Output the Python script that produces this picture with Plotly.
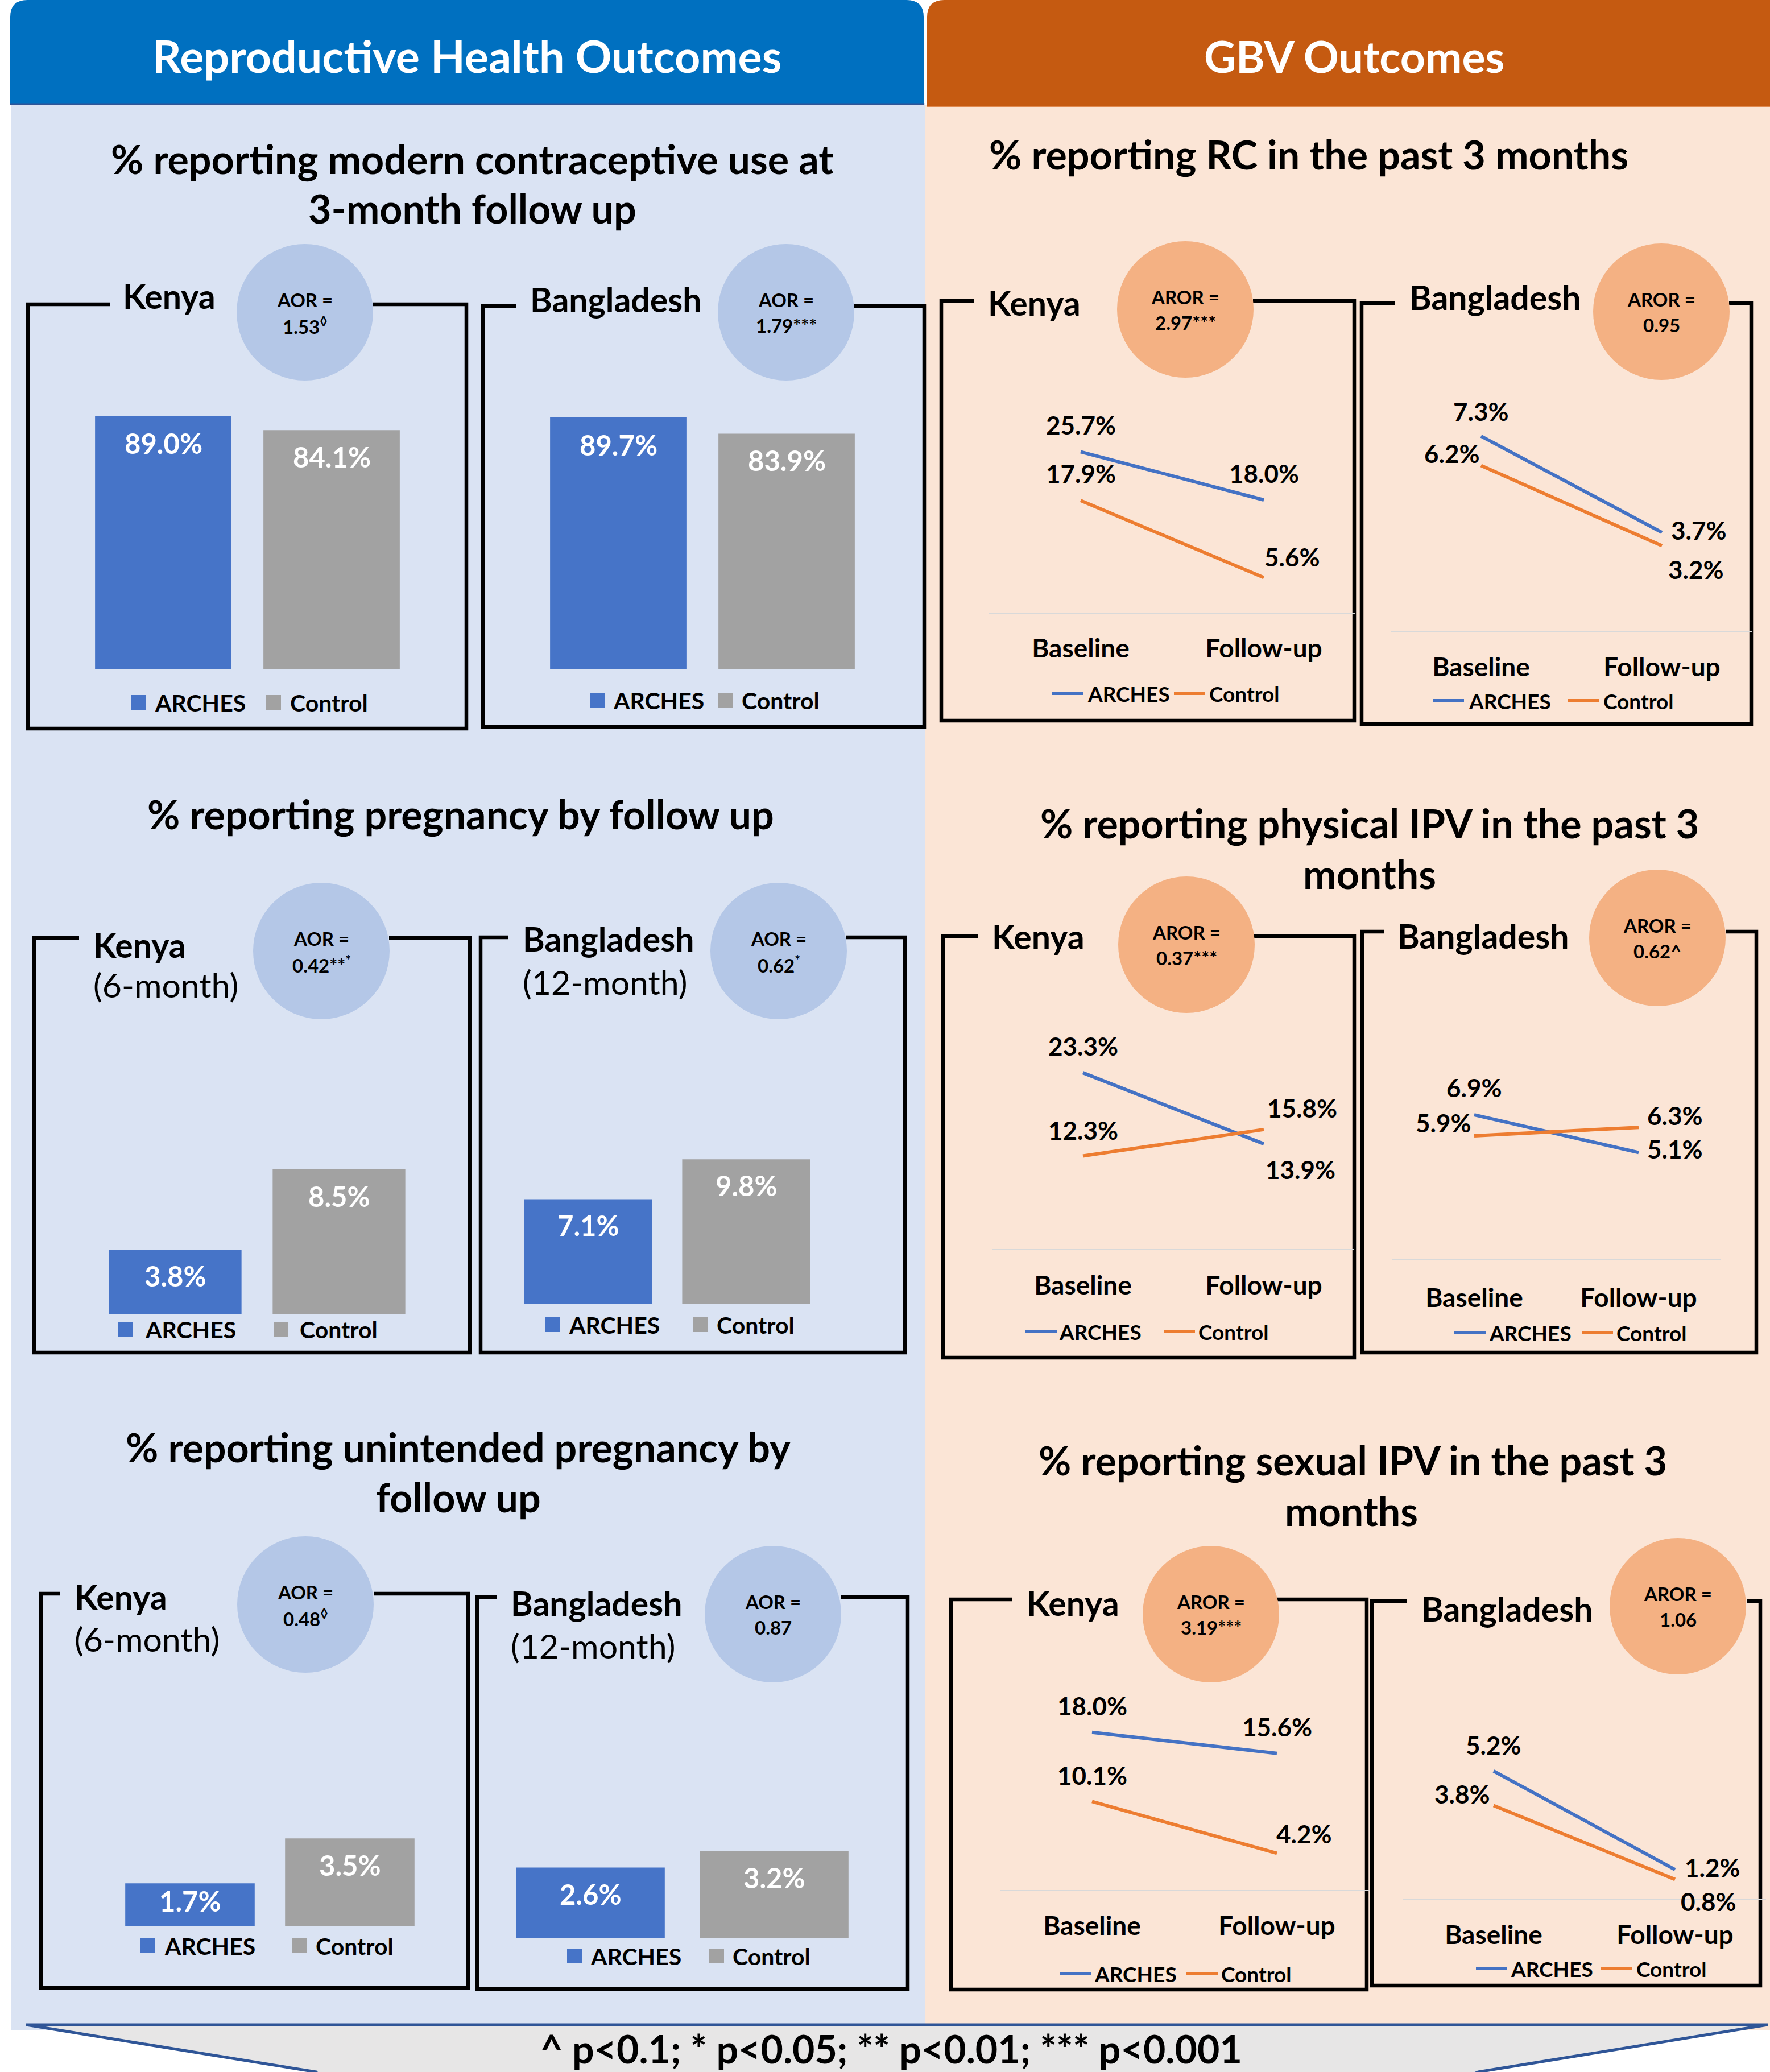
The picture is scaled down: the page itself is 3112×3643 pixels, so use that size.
import plotly.graph_objects as go

W, H = 3112, 3643

# ---------------- data ----------------
groups = ["ARCHES", "Control"]
timepoints = ["Baseline", "Follow-up"]

contraceptive_kenya = [89.0, 84.1]
contraceptive_bangladesh = [89.7, 83.9]
pregnancy_kenya = [3.8, 8.5]
pregnancy_bangladesh = [7.1, 9.8]
unintended_kenya = [1.7, 3.5]
unintended_bangladesh = [2.6, 3.2]

rc_kenya_arches = [25.7, 18.0]
rc_kenya_control = [17.9, 5.6]
rc_bangladesh_arches = [7.3, 3.7]
rc_bangladesh_control = [6.2, 3.2]
physical_kenya_arches = [23.3, 13.9]
physical_kenya_control = [12.3, 15.8]
physical_bangladesh_arches = [6.9, 5.1]
physical_bangladesh_control = [5.9, 6.3]
sexual_kenya_arches = [18.0, 15.6]
sexual_kenya_control = [10.1, 4.2]
sexual_bangladesh_arches = [5.2, 1.2]
sexual_bangladesh_control = [3.8, 0.8]

rh_or_kenya = ["1.53<sup>◊</sup>", "0.42**<sup>*</sup>", "0.48<sup>◊</sup>"]
rh_or_bangladesh = ["1.79***", "0.62<sup>*</sup>", "0.87"]
gbv_or_kenya = ["2.97***", "0.37***", "3.19***"]
gbv_or_bangladesh = ["0.95", "0.62^", "1.06"]

header_left = "Reproductive Health Outcomes"
header_right = "GBV Outcomes"
footer_text = "^ p&lt;0.1; * p&lt;0.05; ** p&lt;0.01; *** p&lt;0.001"

# ---------------- styles ----------------
FONT = "Lato"
BLUE = "#4472c4"
ORANGE = "#ed7d31"
BAR_BLUE = "#4674c8"
BAR_GRAY = "#a2a2a2"
BG_LEFT = "#dae3f3"
BG_RIGHT = "#fbe5d6"
CIRC_BLUE = "#b4c7e7"
CIRC_ORANGE = "#f4b183"

TITLE_SIZE = 70
COUNTRY_SIZE = 59
OR_SIZE = 33
BARLABEL_SIZE = 49
BARLEG_SIZE = 41
LINELABEL_SIZE = 44
CAT_SIZE = 46
LINELEG_SIZE = 37
LINE_W = 6

shapes = []
annotations = []


def X(x):
    return x / W


def Y(y):
    return 1 - y / H


def rect(x0, y0, x1, y1, fill, lc=None, lw=0):
    shapes.append(dict(type="rect", xref="paper", yref="paper",
                       x0=X(x0), x1=X(x1), y0=Y(y1), y1=Y(y0),
                       fillcolor=fill, line=dict(width=lw, color=lc or fill),
                       layer="below"))


def path(d, fill=None, color="black", lw=6.5):
    s = dict(type="path", xref="paper", yref="paper", path=d,
             line=dict(color=color, width=lw), layer="below")
    if fill:
        s["fillcolor"] = fill
    shapes.append(s)


def pts(points):
    return " L ".join(f"{X(x):.6f},{Y(y):.6f}" for x, y in points)


def circle(cx, cy, r, fill):
    shapes.append(dict(type="circle", xref="paper", yref="paper",
                       x0=X(cx - r), x1=X(cx + r), y0=Y(cy + r), y1=Y(cy - r),
                       fillcolor=fill, line=dict(width=0), layer="below"))


def seg(x0, y0, x1, y1, color, lw):
    shapes.append(dict(type="line", xref="paper", yref="paper",
                       x0=X(x0), x1=X(x1), y0=Y(y0), y1=Y(y1),
                       line=dict(color=color, width=lw), layer="below"))


def text(x, y, s, size, color="black", xanchor="center", weight=700):
    annotations.append(dict(x=X(x), y=Y(y), xref="paper", yref="paper", text=s,
                            showarrow=False, xanchor=xanchor, yanchor="middle",
                            font=dict(family=FONT, size=size, color=color, weight=weight)))


def frame(box, segs):
    x0, top, x1, bottom = box
    l, r = segs
    d = "M " + pts([(l, top), (x0, top), (x0, bottom), (x1, bottom), (x1, top), (r, top)])
    path(d)


# ---------------- backgrounds ----------------
rect(19, 181, 1627, 3570, BG_LEFT)
rect(1627, 185, 3112, 3570, BG_RIGHT)

r = 30
d = (f"M {X(18):.6f},{Y(183):.6f} L {X(18):.6f},{Y(r):.6f} Q {X(18):.6f},{Y(0):.6f} {X(18 + r):.6f},{Y(0):.6f} "
     f"L {X(1624 - r):.6f},{Y(0):.6f} Q {X(1624):.6f},{Y(0):.6f} {X(1624):.6f},{Y(r):.6f} L {X(1624):.6f},{Y(183):.6f} Z")
path(d, fill="#0070c0", color="#0070c0", lw=0)
seg(18, 183, 1624, 183, "#2f5597", 3)
d = (f"M {X(1630):.6f},{Y(187):.6f} L {X(1630):.6f},{Y(r):.6f} Q {X(1630):.6f},{Y(0):.6f} {X(1630 + r):.6f},{Y(0):.6f} "
     f"L {X(3140):.6f},{Y(0):.6f} L {X(3140):.6f},{Y(187):.6f} Z")
path(d, fill="#c55a11", color="#c55a11", lw=0)
seg(1630, 187, 3112, 187, "#e08a50", 2)

text(821, 97, header_left, 79, color="white")
text(2381, 98, header_right, 77, color="white")

# section titles
text(830, 279, "% reporting modern contraceptive use at", TITLE_SIZE)
text(830, 366, "3-month follow up", TITLE_SIZE)
text(810, 1431, "% reporting pregnancy by follow up", TITLE_SIZE)
text(806, 2544, "% reporting unintended pregnancy by", TITLE_SIZE)
text(806, 2632, "follow up", TITLE_SIZE)
text(2301, 271, "% reporting RC in the past 3 months", TITLE_SIZE)
text(2408, 1447, "% reporting physical IPV in the past 3", TITLE_SIZE)
text(2408, 1536, "months", TITLE_SIZE)
text(2378, 2567, "% reporting sexual IPV in the past 3", TITLE_SIZE)
text(2376, 2656, "months", TITLE_SIZE)

# footer
d = "M " + pts([(46, 3560), (3108, 3560), (2599, 3643), (2560, 3660), (560, 3660), (556, 3643)]) + " Z"
path(d, fill="#e7e6e6", color="#2f5597", lw=5)
text(1567, 3601, footer_text, 68)

# ---------------- panels ----------------
bar_panels = [
    dict(vals=contraceptive_kenya, country="Kenya", sub=None, orv=rh_or_kenya[0],
         box=(49, 535, 820, 1281), segs=(193, 656), tpos=(214, 520), spos=None,
         circ=(536, 549), centers=(287, 583), base=1176, scale=4.99,
         leg_y=1235, leg=(243, 270, 481, 508), offs=(47, 47)),
    dict(vals=contraceptive_bangladesh, country="Bangladesh", sub=None, orv=rh_or_bangladesh[0],
         box=(849, 538, 1625, 1278), segs=(908, 1502), tpos=(930, 527), spos=None,
         circ=(1382, 549), centers=(1087, 1383), base=1177, scale=4.94,
         leg_y=1231, leg=(1050, 1076, 1276, 1302), offs=(48, 46)),
    dict(vals=pregnancy_kenya, country="Kenya", sub="(6-month)", orv=rh_or_kenya[1],
         box=(60, 1649, 826, 2378), segs=(139, 684), tpos=(162, 1661), spos=(162, 1732),
         circ=(565, 1672), centers=(308, 596), base=2311, scale=30.0,
         leg_y=2337, leg=(221, 253, 494, 525), offs=(46, 47)),
    dict(vals=pregnancy_bangladesh, country="Bangladesh", sub="(12-month)", orv=rh_or_bangladesh[1],
         box=(845, 1648, 1591, 2378), segs=(894, 1488), tpos=(917, 1650), spos=(917, 1727),
         circ=(1369, 1672), centers=(1034, 1312), base=2293, scale=26.0,
         leg_y=2329, leg=(972, 998, 1232, 1258), offs=(46, 46)),
    dict(vals=unintended_kenya, country="Kenya", sub="(6-month)", orv=rh_or_kenya[2],
         box=(72, 2802, 823, 3495), segs=(106, 658), tpos=(129, 2807), spos=(129, 2881),
         circ=(537, 2821), centers=(334, 615), base=3386, scale=43.9,
         leg_y=3421, leg=(259, 287, 526, 553), offs=(31, 47)),
    dict(vals=unintended_bangladesh, country="Bangladesh", sub="(12-month)", orv=rh_or_bangladesh[2],
         box=(839, 2808, 1596, 3497), segs=(874, 1479), tpos=(896, 2818), spos=(896, 2893),
         circ=(1359, 2838), centers=(1038, 1361), base=3407, scale=47.5,
         leg_y=3439, leg=(1010, 1036, 1260, 1286), offs=(46, 46)),
]

line_panels = [
    dict(a=rc_kenya_arches, c=rc_kenya_control, country="Kenya", orv=gbv_or_kenya[0],
         box=(1655, 529, 2381, 1267), segs=(1712, 2203), tpos=(1735, 533), circ=(2084, 544),
         xs=(1900, 2222), zero=1077, scale=11.0, cat_y=1139, leg_y=1219,
         leg=(1849, 1908, 2064, 2122), offa=[(0, -47), (0, -47)], offc=[(0, -48), (50, -36)]),
    dict(a=rc_bangladesh_arches, c=rc_bangladesh_control, country="Bangladesh", orv=gbv_or_bangladesh[0],
         box=(2394, 533, 3079, 1273), segs=(2452, 3040), tpos=(2476, 523), circ=(2921, 548),
         xs=(2604, 2922), zero=1110, scale=47.0, cat_y=1172, leg_y=1232,
         leg=(2519, 2578, 2756, 2815), offa=[(0, -44), (65, -4)], offc=[(-51, -22), (60, 41)]),
    dict(a=physical_kenya_arches, c=physical_kenya_control, country="Kenya", orv=gbv_or_kenya[1],
         box=(1658, 1646, 2381, 2387), segs=(1720, 2205), tpos=(1742, 1646), circ=(2086, 1661),
         xs=(1904, 2222), zero=2196, scale=13.3, cat_y=2259, leg_y=2341,
         leg=(1803, 1858, 2046, 2103), offa=[(0, -47), (64, 45)], offc=[(0, -45), (67, -38)]),
    dict(a=physical_bangladesh_arches, c=physical_bangladesh_control, country="Bangladesh", orv=gbv_or_bangladesh[1],
         box=(2395, 1638, 3088, 2378), segs=(2434, 3035), tpos=(2455, 1645), circ=(2914, 1649),
         xs=(2592, 2881), zero=2214, scale=36.8, cat_y=2281, leg_y=2343,
         leg=(2557, 2614, 2781, 2838), offa=[(0, -48), (64, -6)], offc=[(-54, -23), (64, -21)]),
    dict(a=sexual_kenya_arches, c=sexual_kenya_control, country="Kenya", orv=gbv_or_kenya[2],
         box=(1672, 2812, 2403, 3498), segs=(1780, 2246), tpos=(1803, 2818), circ=(2129, 2838),
         xs=(1920, 2245), zero=3323, scale=15.4, cat_y=3385, leg_y=3470,
         leg=(1863, 1920, 2086, 2143), offa=[(0, -47), (0, -47)], offc=[(0, -46), (48, -34)]),
    dict(a=sexual_bangladesh_arches, c=sexual_bangladesh_control, country="Bangladesh", orv=gbv_or_bangladesh[2],
         box=(2412, 2815, 3095, 3491), segs=(2474, 3071), tpos=(2497, 2828), circ=(2950, 2824),
         xs=(2626, 2945), zero=3339, scale=43.3, cat_y=3401, leg_y=3461,
         leg=(2595, 2652, 2814, 2873), offa=[(0, -46), (66, -4)], offc=[(-55, -20), (59, 39)]),
]

fig = go.Figure()
layout_axes = {}
idx = 0


def names(i):
    s = "" if i == 1 else str(i)
    return "x" + s, "y" + s, "xaxis" + s, "yaxis" + s


for p in bar_panels:
    idx += 1
    xn, yn, xa, ya = names(idx)
    frame(p["box"], p["segs"])
    circle(*p["circ"], 120, CIRC_BLUE)
    cx, cy = p["circ"]
    text(cx, cy - 22, "AOR =", OR_SIZE)
    text(cx, cy + 23, p["orv"], OR_SIZE)
    text(p["tpos"][0], p["tpos"][1], p["country"], COUNTRY_SIZE, xanchor="left")
    if p["sub"]:
        text(p["spos"][0], p["spos"][1], p["sub"], COUNTRY_SIZE, xanchor="left", weight=400)
    c0, c1 = p["centers"]
    sp = c1 - c0
    top = p["box"][1]
    layout_axes[xa] = dict(domain=[X(c0 - sp / 2), X(c1 + sp / 2)], range=[-0.5, 1.5],
                           type="category", categoryorder="array", categoryarray=groups,
                           visible=False, anchor=yn, fixedrange=True)
    layout_axes[ya] = dict(domain=[Y(p["base"]), Y(top)], range=[0, (p["base"] - top) / p["scale"]],
                           visible=False, anchor=xn, fixedrange=True)
    fig.add_trace(go.Bar(x=groups, y=p["vals"], width=0.81,
                         marker=dict(color=[BAR_BLUE, BAR_GRAY], line=dict(width=0)),
                         xaxis=xn, yaxis=yn, showlegend=False, hoverinfo="x+y"))
    for g, v, off in zip(groups, p["vals"], p["offs"]):
        annotations.append(dict(x=g, y=v, xref=xn, yref=yn, text=f"{v:.1f}%", showarrow=False,
                                xanchor="center", yanchor="middle", yshift=-off,
                                font=dict(family=FONT, size=BARLABEL_SIZE, color="white", weight=700)))
    # legend
    s1, t1, s2, t2 = p["leg"]
    ly = p["leg_y"]
    rect(s1 - 13, ly - 13, s1 + 13, ly + 13, BAR_BLUE)
    rect(s2 - 13, ly - 13, s2 + 13, ly + 13, BAR_GRAY)
    text(t1, ly, groups[0], BARLEG_SIZE, xanchor="left")
    text(t2, ly, groups[1], BARLEG_SIZE, xanchor="left")

for p in line_panels:
    idx += 1
    xn, yn, xa, ya = names(idx)
    frame(p["box"], p["segs"])
    circle(*p["circ"], 120, CIRC_ORANGE)
    cx, cy = p["circ"]
    text(cx, cy - 22, "AROR =", OR_SIZE)
    text(cx, cy + 23, p["orv"], OR_SIZE)
    text(p["tpos"][0], p["tpos"][1], p["country"], COUNTRY_SIZE, xanchor="left")
    b0, b1 = p["xs"]
    sp = b1 - b0
    top = p["box"][1]
    layout_axes[xa] = dict(domain=[X(b0 - sp / 2), X(b1 + sp / 2)], range=[-0.5, 1.5],
                           type="category", categoryorder="array", categoryarray=timepoints,
                           showline=True, linecolor="#d9d9d9", linewidth=2, showgrid=False,
                           zeroline=False, ticks="", ticklen=0,
                           ticklabelstandoff=p["cat_y"] - p["zero"] - 40,
                           tickfont=dict(family=FONT, size=CAT_SIZE, color="black", weight=700),
                           anchor=yn, fixedrange=True)
    layout_axes[ya] = dict(domain=[Y(p["zero"]), Y(top)], range=[0, (p["zero"] - top) / p["scale"]],
                           visible=False, anchor=xn, fixedrange=True)
    for vals, col, offs, nm in ((p["a"], BLUE, p["offa"], groups[0]), (p["c"], ORANGE, p["offc"], groups[1])):
        fig.add_trace(go.Scatter(x=timepoints, y=vals, mode="lines", name=nm,
                                 line=dict(color=col, width=LINE_W), xaxis=xn, yaxis=yn,
                                 showlegend=False, cliponaxis=False))
        for t, v, (dx, dy) in zip(timepoints, vals, offs):
            annotations.append(dict(x=t, y=v, xref=xn, yref=yn, text=f"{v:.1f}%", showarrow=False,
                                    xanchor="center", yanchor="middle", xshift=dx, yshift=-dy,
                                    font=dict(family=FONT, size=LINELABEL_SIZE, color="black", weight=700)))
    l1, t1, l2, t2 = p["leg"]
    ly = p["leg_y"]
    seg(l1, ly, l1 + 55, ly, BLUE, LINE_W)
    seg(l2, ly, l2 + 55, ly, ORANGE, LINE_W)
    text(t1 + 2, ly, groups[0], LINELEG_SIZE, xanchor="left")
    text(t2 + 2, ly, groups[1], LINELEG_SIZE, xanchor="left")

fig.update_layout(
    width=W, height=H, autosize=False,
    margin=dict(l=0, r=0, t=0, b=0, pad=0),
    paper_bgcolor="white", plot_bgcolor="rgba(0,0,0,0)",
    shapes=shapes, annotations=annotations, showlegend=False,
    font=dict(family=FONT),
    **layout_axes,
)

fig.write_html("out.html")
